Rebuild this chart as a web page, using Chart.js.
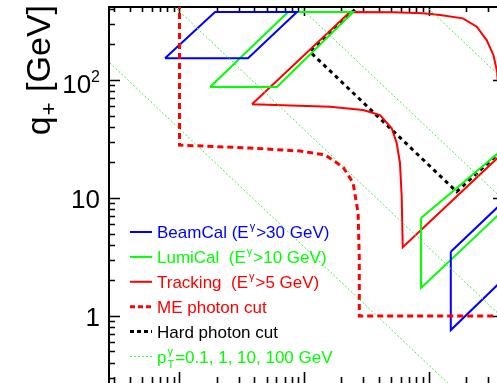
<!DOCTYPE html>
<html>
<head>
<meta charset="utf-8">
<script src="https://cdn.jsdelivr.net/npm/chart.js@4.4.0/dist/chart.umd.min.js"></script>
<style>
  html, body { margin: 0; padding: 0; background: #fff; overflow: hidden; }
  #wrap { width: 497px; height: 383px; overflow: hidden; position: relative; }
  canvas { position: absolute; left: 0; top: 0; }
</style>
</head>
<body>
<div id="wrap"><canvas id="myChart" width="520" height="400"></canvas></div>
<script>
// axis ranges in GeV: q- along x, q+ along y (the frame is cropped at the bottom and right)
const qMinusRange = [0.2715, 404];
const qPlusRange = [0.26, 415.6];
const yTickLabels = [['1', ''], ['10', ''], ['10', '2']];
const yTickValues = [1, 10, 100];

// all curves are lists of [q-, q+] in GeV
const beamCalUpper = [[0.765, 153], [1.93, 377], [8.78, 377], [3.55, 153], [0.765, 153]];
const beamCalLower = [[151, 3.5], [377, 8.78], [377, 1.93], [151, 0.76], [151, 3.5]];
const lumiCalUpper = [[1.76, 87.3], [7.44, 377], [24.8, 377], [6.07, 87.3], [1.76, 87.3]];
const lumiCalLower = [[87.1, 6.77], [377, 24.8], [377, 7.44], [87.1, 1.73], [87.1, 6.77]];
const tracking = [[3.82, 62.3], [23.4, 377], [51.9, 375], [90.3, 367], [124, 356], [189, 333],
  [244, 283], [293, 218], [332, 163], [353, 122], [368, 80], [376, 22.9], [62.1, 3.82],
  [60.9, 10.3], [59.0, 19.8], [55.5, 29.3], [50.6, 39.0], [40.8, 50.5], [29.8, 55.7],
  [16.2, 59.4], [3.82, 62.3]];
const mePhotonCut = [[1.0, 450], [1.0, 28.1], [3.68, 26.5], [9.29, 25.0], [14.7, 23.2],
  [20.6, 18.3], [24.8, 13.4], [27.2, 7.46], [27.8, 3.1], [27.8, 1.0], [600, 1.0]];
const hardPhotonCut = [[28.5, 440], [11.2, 173], [168.5, 11.3], [440, 28.6]];
const ptLine01 = [[0.2, 192.5], [150, 0.257]];
const ptLine1 = [[0.9, 423], [1000, 0.381]];
const ptLine10 = [[9, 429], [1000, 3.86]];
const ptLine100 = [[95, 424], [1000, 40.3]];

const BLUE = '#0000ff', GREEN = '#00ff00', RED = '#ff0000', LIGHTGREEN = '#44ee44';
const FONT = '"Liberation Sans", Arial, Helvetica, sans-serif';

const legendItems = [
  { color: BLUE, width: 2, dash: [], parts: [['BeamCal (E'], ['\u03b3', 'sup'], ['>30 GeV)']] },
  { color: GREEN, width: 2, dash: [], parts: [['LumiCal  (E'], ['\u03b3', 'sup'], ['>10 GeV)']] },
  { color: RED, width: 2, dash: [], parts: [['Tracking  (E'], ['\u03b3', 'sup'], ['>5 GeV)']] },
  { color: RED, width: 3, dash: [5, 3], parts: [['ME photon cut']] },
  { color: '#000', width: 3, dash: [4, 3], parts: [['Hard photon cut']] },
  { color: LIGHTGREEN, width: 1, dash: [2, 2], parts: [['p'], ['\u03b3', 'sup', 'T'], ['=0.1, 1, 10, 100 GeV']] }
];

function toXY(list) {
  return list.map(p => ({ x: p[0], y: p[1] }));
}

function curve(list, color, width, dash) {
  return {
    data: toXY(list),
    showLine: true,
    borderColor: color,
    borderWidth: width,
    borderDash: dash,
    pointRadius: 0,
    fill: false,
    tension: 0,
    clip: 0
  };
}

function logTicks(min, max) {
  const out = [];
  for (let e = -2; e <= 4; e++) {
    for (let m = 1; m <= 9; m++) {
      const v = m * Math.pow(10, e);
      if (v > min && v < max) out.push({ v, major: m === 1 });
    }
  }
  return out;
}

// draws text pieces with ROOT style super/subscripts
function richText(ctx, parts, x, y, size) {
  let cx = x;
  for (const p of parts) {
    const [t, kind, sub] = p;
    if (!kind) {
      ctx.font = size + 'px ' + FONT;
      ctx.fillText(t, cx, y);
      cx += ctx.measureText(t).width;
    } else {
      const s = Math.round(size * 0.62);
      ctx.font = s + 'px ' + FONT;
      let w = ctx.measureText(t).width;
      ctx.fillText(t, cx + 1, y - size * 0.45);
      if (sub) {
        w = Math.max(w, ctx.measureText(sub).width);
        ctx.fillText(sub, cx + 1, y + size * 0.3);
      }
      cx += w + 2;
    }
  }
  return cx - x;
}

const rootFrame = {
  id: 'rootFrame',
  beforeDatasetsDraw(chart) {
    const { ctx, chartArea: a, scales: { x, y } } = chart;
    ctx.save();
    ctx.strokeStyle = '#000';
    ctx.lineWidth = 2;
    ctx.strokeRect(a.left, a.top, a.right - a.left, a.bottom - a.top);
    ctx.lineWidth = 1.6;
    ctx.beginPath();
    for (const t of logTicks(qMinusRange[0], qMinusRange[1])) {
      const px = Math.round(x.getPixelForValue(t.v)) + 0.5;
      ctx.moveTo(px, a.top);
      ctx.lineTo(px, a.top + (t.major ? 9 : 5));
      ctx.moveTo(px, a.bottom);
      ctx.lineTo(px, a.bottom - (t.major ? 13 : 8));
    }
    for (const t of logTicks(qPlusRange[0], qPlusRange[1])) {
      const py = Math.round(y.getPixelForValue(t.v)) + 0.5;
      ctx.moveTo(a.left, py);
      ctx.lineTo(a.left + (t.major ? 11 : 6), py);
      ctx.moveTo(a.right, py);
      ctx.lineTo(a.right - (t.major ? 11 : 6), py);
    }
    ctx.stroke();
    ctx.restore();
  },
  afterDatasetsDraw(chart) {
    const { ctx, scales: { y } } = chart;
    ctx.save();
    ctx.fillStyle = '#000';
    ctx.textBaseline = 'alphabetic';

    // y tick labels
    yTickValues.forEach((v, i) => {
      const [main, sup] = yTickLabels[i];
      const py = y.getPixelForValue(v);
      const right = 100;
      ctx.textAlign = 'right';
      if (sup) {
        ctx.font = '16px ' + FONT;
        const sw = ctx.measureText(sup).width;
        ctx.fillText(sup, right, py + 2);
        ctx.font = '26px ' + FONT;
        ctx.fillText(main, right - sw, py + 13);
      } else {
        ctx.font = '26px ' + FONT;
        ctx.fillText(main, right, py + 10);
      }
    });

    // y axis title, rotated, aligned to the top end of the axis
    ctx.textAlign = 'left';
    ctx.save();
    ctx.translate(50, 5);
    ctx.rotate(-Math.PI / 2);
    const size = 34;
    const subSize = Math.round(size * 0.65);
    ctx.font = size + 'px ' + FONT;
    const wq = ctx.measureText('q').width;
    const wRest = ctx.measureText(' [GeV]').width;
    ctx.font = subSize + 'px ' + FONT;
    const wPlus = ctx.measureText('+').width + 2;
    let cx = -(wq + wPlus + wRest);
    ctx.font = size + 'px ' + FONT;
    ctx.fillText('q', cx, 0);
    cx += wq;
    ctx.font = subSize + 'px ' + FONT;
    ctx.fillText('+', cx + 1, 6);
    cx += wPlus;
    ctx.font = size + 'px ' + FONT;
    ctx.fillText(' [GeV]', cx, 0);
    ctx.restore();

    // legend
    legendItems.forEach((it, i) => {
      const cy = 232 + i * 24.9;
      ctx.save();
      ctx.strokeStyle = it.color;
      ctx.lineWidth = it.width;
      ctx.setLineDash(it.dash);
      ctx.beginPath();
      ctx.moveTo(130, cy);
      ctx.lineTo(152, cy);
      ctx.stroke();
      ctx.restore();
      ctx.fillStyle = it.color === LIGHTGREEN ? GREEN : it.color;
      richText(ctx, it.parts, 157, cy + 6, 17);
    });
    ctx.restore();
  }
};

const ctx = document.getElementById('myChart').getContext('2d');

const chart = new Chart(ctx, {
  type: 'scatter',
  data: {
    datasets: [
      curve(ptLine01, LIGHTGREEN, 1, [2, 2]),
      curve(ptLine1, LIGHTGREEN, 1, [2, 2]),
      curve(ptLine10, LIGHTGREEN, 1, [2, 2]),
      curve(ptLine100, LIGHTGREEN, 1, [2, 2]),
      curve(mePhotonCut, RED, 3, [6, 4]),
      curve(beamCalUpper, BLUE, 2, []),
      curve(beamCalLower, BLUE, 2, []),
      curve(lumiCalUpper, GREEN, 2, []),
      curve(lumiCalLower, GREEN, 2, []),
      curve(tracking, RED, 2, []),
      curve(hardPhotonCut, '#000', 3, [4, 4])
    ]
  },
  options: {
    responsive: false,
    animation: false,
    devicePixelRatio: 1,
    events: [],
    layout: { padding: { left: 109, top: 7, right: 16, bottom: 15 } },
    scales: {
      x: { type: 'logarithmic', display: false, min: qMinusRange[0], max: qMinusRange[1] },
      y: { type: 'logarithmic', display: false, min: qPlusRange[0], max: qPlusRange[1] }
    },
    plugins: { legend: { display: false }, tooltip: { enabled: false } }
  },
  plugins: [rootFrame]
});
</script>
</body>
</html>
